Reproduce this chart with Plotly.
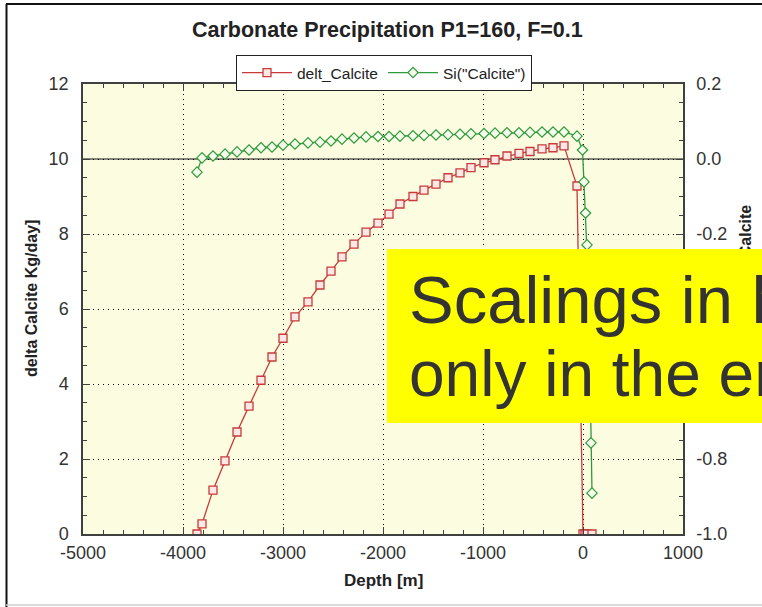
import plotly.graph_objects as go

# ---------------- data ----------------
depth_delt = [-3860, -3810, -3700, -3580, -3460, -3340, -3220, -3110, -3000, -2880,
              -2750, -2630, -2520, -2410, -2290, -2170, -2050, -1940, -1830, -1700,
              -1590, -1470, -1350, -1230, -1120, -990, -880, -760, -640, -530,
              -410, -300, -190, -60, 0, 20, 40, 90]
delt_calcite = [0.00, 0.27, 1.17, 1.95, 2.72, 3.41, 4.10, 4.72, 5.22, 5.79,
                6.19, 6.64, 7.01, 7.39, 7.73, 8.05, 8.29, 8.53, 8.80, 9.00,
                9.17, 9.33, 9.50, 9.63, 9.77, 9.90, 9.98, 10.08, 10.15, 10.20,
                10.27, 10.30, 10.35, 9.28, 0.00, 0.00, 0.00, 0.00]

depth_si = [-3860, -3810, -3700, -3580, -3460, -3340, -3220, -3110, -3000, -2880,
            -2750, -2630, -2520, -2410, -2290, -2170, -2050, -1940, -1830, -1700,
            -1590, -1470, -1350, -1230, -1120, -990, -880, -760, -640, -530,
            -410, -300, -190, -60, -5, 10, 25, 40, 50, 60, 65, 70, 75, 80, 90]
si_calcite = [-0.035, 0.003, 0.008, 0.013, 0.019, 0.024, 0.030, 0.032, 0.037, 0.040,
              0.043, 0.045, 0.048, 0.053, 0.056, 0.059, 0.060, 0.060, 0.061, 0.062,
              0.063, 0.064, 0.065, 0.066, 0.067, 0.068, 0.069, 0.070, 0.070, 0.071,
              0.072, 0.072, 0.072, 0.061, 0.024, -0.061, -0.144, -0.229, -0.31, -0.40,
              -0.48, -0.57, -0.66, -0.757, -0.891]

x_ticks = [-5000, -4000, -3000, -2000, -1000, 0, 1000]
y_ticks = [0, 2, 4, 6, 8, 10, 12]
y2_ticks = [-1.0, -0.8, -0.6, -0.4, -0.2, 0.0, 0.2]

title_text = "Carbonate Precipitation P1=160, F=0.1"
x_title = "Depth [m]"
y_title = "delta Calcite Kg/day]"
y2_title = "Saturation Index Calcite"
note_line1 = "Scalings in hydraulics"
note_line2 = "only in the end"

# ---------------- geometry helpers (plot area in px) ----------------
W, H = 762, 607
L, R, T, B = 83, 683, 84, 534


def px(xp):
    return (xp - L) / (R - L)


def py(yp):
    return (B - yp) / (B - T)


FONT = "Arial, 'Liberation Sans', sans-serif"
RED = "#c83a3a"
GREEN = "#2f9a3c"
AXC = "#404040"
GRID_DASH = "1px,4px"

fig = go.Figure()
fig.add_trace(go.Scatter(
    x=depth_delt, y=delt_calcite, name="delt_Calcite", mode="lines+markers",
    line=dict(color=RED, width=1.3),
    marker=dict(symbol="square", size=8, color="#fde8e6",
                line=dict(color=RED, width=1.3)),
    yaxis="y"))
fig.add_trace(go.Scatter(
    x=depth_si, y=si_calcite, name='Si("Calcite")', mode="lines+markers",
    line=dict(color=GREEN, width=1.3),
    marker=dict(symbol="diamond", size=8, color="#f4fbe8",
                line=dict(color=GREEN, width=1.2)),
    yaxis="y2"))

axis_common = dict(
    showline=True, linecolor=AXC, linewidth=1.5,
    ticks="inside", ticklen=7, tickwidth=1, tickcolor=AXC,
    tickfont=dict(family=FONT, size=18, color="#333333"),
    zeroline=False,
)

fig.update_layout(
    width=W, height=H,
    margin=dict(l=L, r=W - R, t=T, b=H - B, pad=0),
    paper_bgcolor="white",
    plot_bgcolor="#fcfce0",
    title=dict(text=title_text, x=px(388), xanchor="center",
               y=1 - 29 / H, yanchor="middle", yref="container",
               font=dict(family=FONT, size=21.5, color="#222222", weight="bold")),
    xaxis=dict(range=[-5000, 1000], tickvals=x_ticks,
               ticktext=[str(v) for v in x_ticks],
               mirror="ticks",
               showgrid=True, gridcolor="black", griddash=GRID_DASH, gridwidth=1,
               minor=dict(ticks="inside", dtick=200, ticklen=4, tickcolor=AXC),
               ticklabelstandoff=2,
               **axis_common),
    yaxis=dict(range=[0, 12], tickvals=y_ticks,
               ticktext=[str(v) for v in y_ticks],
               showgrid=True, gridcolor="black", griddash=GRID_DASH, gridwidth=1,
               minor=dict(ticks="inside", dtick=0.5, ticklen=4, tickcolor=AXC),
               ticklabelstandoff=9,
               **axis_common),
    yaxis2=dict(range=[-1.0, 0.2], tickvals=y2_ticks,
                ticktext=["%.1f" % v for v in y2_ticks],
                overlaying="y", side="right", showgrid=False,
                minor=dict(ticks="inside", dtick=0.05, ticklen=4, tickcolor=AXC),
                ticklabelstandoff=8,
                **axis_common),
    legend=dict(orientation="h", x=px(384), xanchor="center",
                y=py(55), yanchor="top",
                bgcolor="white", bordercolor="#222222", borderwidth=1,
                font=dict(family=FONT, size=15.5, color="#222222"),
                itemwidth=50, tracegroupgap=0),
    showlegend=True,
)

shapes = [
    # solid reference line at zero saturation
    dict(type="line", xref="paper", x0=0, x1=1, yref="y", y0=10, y1=10,
         line=dict(color="#111111", width=1.2), layer="below"),
    # outer frame lines
    dict(type="line", xref="paper", yref="paper", x0=px(6), x1=px(770),
         y0=py(4), y1=py(4), line=dict(color="#111111", width=2)),
    dict(type="line", xref="paper", yref="paper", x0=px(6.5), x1=px(6.5),
         y0=py(4), y1=py(610), line=dict(color="#111111", width=2)),
    dict(type="line", xref="paper", yref="paper", x0=px(6), x1=px(770),
         y0=py(605), y1=py(605), line=dict(color="#cfcfcf", width=1.5)),
]
fig.update_layout(shapes=shapes)

annotations = [
    dict(text=x_title, xref="paper", yref="paper", x=px(383), y=py(580),
         xanchor="center", yanchor="middle", showarrow=False,
         font=dict(family=FONT, size=17, color="#222222", weight="bold")),
    dict(text=y_title, xref="paper", yref="paper", x=px(31), y=py(299),
         xanchor="center", yanchor="middle", textangle=-90, showarrow=False,
         font=dict(family=FONT, size=16, color="#222222", weight="bold")),
    dict(text=y2_title, xref="paper", yref="paper", x=px(745), y=py(203),
         xanchor="center", yanchor="top", textangle=-90, showarrow=False,
         font=dict(family=FONT, size=16, color="#222222", weight="bold")),
    # yellow note box
    dict(text=" ", xref="paper", yref="paper", x=px(387), y=py(249),
         xanchor="left", yanchor="top", showarrow=False,
         width=400, height=174, bgcolor="#ffff00", borderpad=0, borderwidth=0),
    dict(text=note_line1, xref="paper", yref="paper", x=px(407), y=py(299),
         xanchor="left", yanchor="middle", showarrow=False,
         font=dict(family=FONT, size=67, color="#333333")),
    dict(text=note_line2, xref="paper", yref="paper", x=px(407), y=py(374),
         xanchor="left", yanchor="middle", showarrow=False,
         font=dict(family=FONT, size=64, color="#333333")),
]
fig.update_layout(annotations=annotations)

fig.write_html("out.html")
